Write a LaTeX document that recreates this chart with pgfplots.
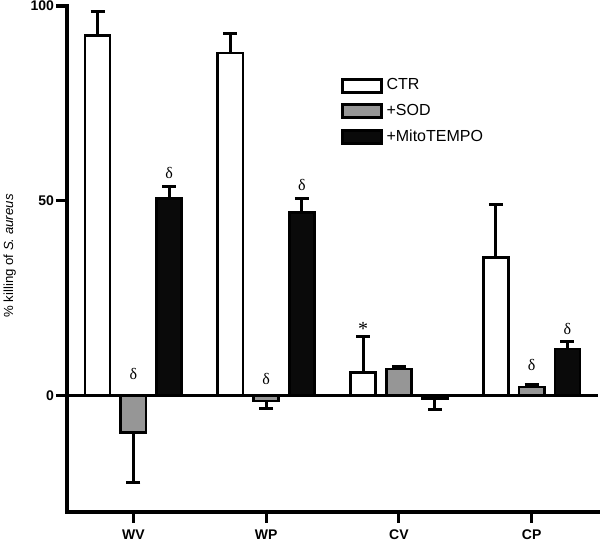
\documentclass[border=0pt]{standalone}
\usepackage{fontspec}
\setmainfont{Liberation Sans}
\newfontfamily\seriffont{Liberation Serif}
\usepackage{pgfplots}
\pgfplotsset{compat=1.18}
\definecolor{sodgray}{RGB}{150,150,150}
\definecolor{mitoblack}{RGB}{10,10,10}
\pgfplotsset{
  mybar/.style={ybar, bar width=0.19, bar shift=0pt, draw=black, line width=1.35pt,
    error bars/y dir=plus, error bars/y explicit,
    error bars/error bar style={line width=1.5pt, black},
    error bars/error mark options={rotate=90, line width=1.5pt, mark size=3.5pt, black}},
}
\newcommand{\dlt}{{\seriffont\fontsize{8}{9}\selectfont δ}}
\begin{document}
\begin{tikzpicture}
\begin{axis}[
  scale only axis, width=265.5pt, height=253pt,
  xmin=-0.5, xmax=3.5, ymin=-30, ymax=100,
  axis lines=left,
  axis line style={line width=2pt, -, line cap=rect},
  xtick={0,1,2,3}, xticklabels={WV,WP,CV,CP},
  ytick={0,50,100},
  tick align=outside, major tick length=5.5pt,
  tick style={line width=1.6pt, black},
  ticklabel style={font=\bfseries\fontsize{7}{8}\selectfont},
  yticklabel style={inner sep=0.8pt},
  /pgf/number format/assume math mode=true,
  ylabel={\% killing of \textit{S. aureus}},
  ylabel style={font=\fontsize{6.6}{8}\selectfont, at={(axis description cs:-0.108,0.506)}, anchor=center},
  clip=false,
  legend style={draw=none, fill=none, at={(axis description cs:0.515,0.865)}, anchor=north west,
    font=\fontsize{8}{9}\selectfont, row sep=1.6pt, inner sep=0pt},
  legend cell align=left,
  legend image code/.code={\draw[#1, line width=1.35pt] (0pt,-3.25pt) rectangle (19.5pt,3.25pt);},
]
\coordinate (O) at (axis cs:-0.5,-30);
% CTR
\addplot[mybar, fill=white]
  coordinates {(-0.27,92.5) +- (0,6.0) (0.73,87.9) +- (0,5.1) (1.73,5.9) +- (0,9.3) (2.73,35.3) +- (0,13.7)};
\addlegendentry{CTR}
% SOD
\addplot[mybar, fill=sodgray]
  coordinates {(0,-9.5) +- (0,-12.9) (1,-1.5) +- (0,-1.9) (2,6.7) +- (0,0.6) (3,2.1) +- (0,0.7)};
\addlegendentry{+SOD}
% MitoTEMPO
\addplot[mybar, fill=mitoblack]
  coordinates {(0.27,50.5) +- (0,3.1) (1.27,46.9) +- (0,3.6) (2.27,-0.8) +- (0,-2.8) (3.27,11.9) +- (0,1.8)};
\addlegendentry{+MitoTEMPO}
% zero line
\addplot[black, line width=1.5pt, forget plot, mark=none] coordinates {(-0.5,0) (3.5,0)};
% annotations
\node at (axis cs:0,5.4) {\dlt};
\node at (axis cs:0.27,57.0) {\dlt};
\node at (axis cs:1,4.1) {\dlt};
\node at (axis cs:1.27,54.1) {\dlt};
\node[font=\seriffont\fontsize{10}{10}\selectfont] at (axis cs:1.73,17.0) {*};
\node at (axis cs:3,7.7) {\dlt};
\node at (axis cs:3.27,17.0) {\dlt};
\end{axis}
\pgfresetboundingbox
\useasboundingbox (O) ++(-33.5pt,-16pt) rectangle ++(300pt,272pt);
\end{tikzpicture}
\end{document}
